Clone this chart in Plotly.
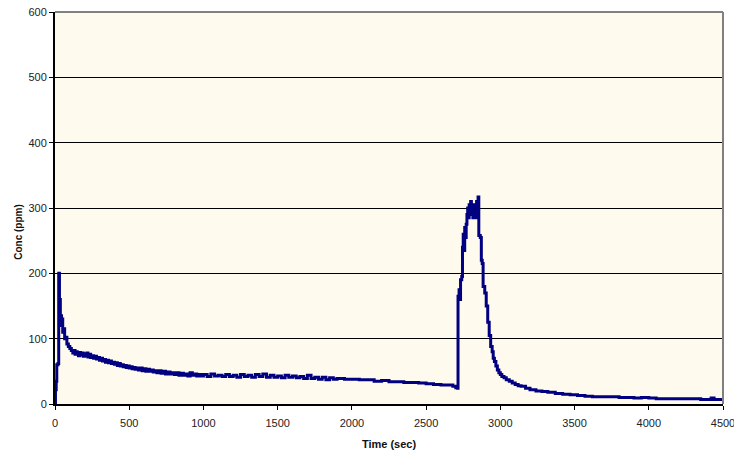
import plotly.graph_objects as go

time_sec = [0, 3, 8, 12, 20, 25, 30, 33, 36, 40, 44, 48, 52, 58, 65, 72, 80, 90, 100, 110,
            120, 128, 135, 142, 150, 158, 165, 172, 180, 190, 200, 207, 215, 222, 230, 240,
            250, 260, 270, 280, 290, 300, 310, 320, 330, 340, 350, 360, 370, 380, 390, 400,
            410, 420, 430, 440, 450, 460, 470, 480, 490, 500, 510, 520, 530, 540, 550, 562,
            575, 587, 600, 612, 625, 637, 650, 662, 675, 687, 700, 715, 730, 745, 760, 775,
            790, 805, 820, 835, 850, 865, 880, 895, 910, 925, 940, 955, 970, 985,
            1000, 1025, 1050, 1075, 1100, 1125, 1150, 1175, 1200, 1225, 1250, 1275, 1300,
            1325, 1350, 1375, 1400, 1425, 1450, 1475, 1500, 1525, 1550, 1575, 1600, 1625,
            1650, 1675, 1700, 1725, 1750, 1775, 1800, 1825, 1850, 1875, 1900, 1950, 2000,
            2050, 2100, 2150, 2200, 2250, 2300, 2350, 2400, 2450, 2500, 2550, 2600, 2650,
            2680, 2700, 2712,
            2715, 2722, 2728, 2732, 2740, 2745, 2750, 2755, 2760, 2765, 2770, 2775, 2780,
            2785, 2790, 2795, 2800, 2805, 2810, 2815, 2820, 2825, 2830, 2835, 2840, 2845,
            2850, 2855, 2865, 2872, 2878, 2884, 2895, 2905, 2915, 2925, 2935, 2945, 2952,
            2960, 2970, 2980, 2990, 3000, 3010, 3025, 3040, 3060, 3080, 3100, 3120, 3140,
            3170, 3200, 3240, 3280, 3320, 3370, 3420, 3470, 3520, 3570, 3620, 3700, 3800,
            3900, 3950, 4000, 4050, 4200, 4350, 4420, 4440, 4500]

conc_ppm = [0, 22, 35, 60, 62, 200, 140, 160, 125, 135, 120, 130, 110, 115, 100, 102, 92, 88, 85, 82,
            78, 82, 76, 80, 77, 74, 79, 75, 78, 73, 77, 74, 78, 72, 76, 71,
            74, 70, 73, 69, 71, 67, 70, 66, 68, 64, 67, 63, 66, 62, 64, 61,
            63, 59, 62, 58, 60, 57, 59, 56, 58, 55, 57, 54, 56, 53, 55, 52,
            55, 51, 54, 50, 53, 50, 52, 49, 51, 48, 51, 47, 50, 46, 49, 46,
            48, 45, 48, 44, 47, 44, 46, 43, 48, 44, 46, 43, 45, 43,
            45, 42, 46, 43, 44, 42, 45, 42, 44, 41, 45, 42, 44,
            41, 45, 42, 46, 41, 44, 41, 43, 40, 44, 41, 43, 40,
            42, 39, 44, 39, 41, 38, 41, 37, 40, 38, 39, 38, 38,
            37, 37, 35, 36, 34, 34, 33, 33, 32, 31, 30, 29, 29,
            27, 25, 24,
            165, 175, 160, 190, 195, 240, 260, 235, 270, 255, 275, 290, 300,
            285, 305, 295, 310, 290, 300, 285, 305, 295, 300, 285, 310, 290,
            317, 258, 255, 220, 215, 180, 170, 150, 125, 105, 88, 80, 70,
            65, 58, 52, 48, 45, 42, 40, 37, 35, 32, 30, 28, 27,
            24, 22, 20, 19, 18, 16, 15, 14, 13, 12, 11, 11, 10,
            9, 10, 9, 8, 8, 7, 9, 7, 7]

x_ticks = [0, 500, 1000, 1500, 2000, 2500, 3000, 3500, 4000, 4500]
y_ticks = [0, 100, 200, 300, 400, 500, 600]

fig = go.Figure()
fig.add_trace(go.Scatter(
    x=time_sec, y=conc_ppm, mode="lines",
    line=dict(color="#000080", width=3, shape="hv"),
    showlegend=False, hoverinfo="skip"))

font = dict(family="Liberation Sans, Arial, sans-serif", size=11, color="#222222")

fig.update_layout(
    width=734, height=453,
    margin=dict(l=55, r=11, t=12, b=49),
    paper_bgcolor="white",
    plot_bgcolor="#FFFAEE",
    font=font,
    xaxis=dict(range=[0, 4500], tickvals=x_ticks, ticks="outside", ticklen=4,
               tickwidth=1, tickcolor="black", showgrid=False, zeroline=False,
               showline=True, linecolor="black", linewidth=2, automargin=False,
               ticklabeloverflow="allow", ticklabelstandoff=4,
               title=dict(text="<b>Time (sec)</b>", font=dict(size=11, color="#111"), standoff=12)),
    yaxis=dict(range=[0, 600], tickvals=y_ticks, ticks="outside", ticklen=4,
               tickwidth=1, tickcolor="black", showgrid=True, gridcolor="black",
               gridwidth=1, zeroline=False, showline=True, linecolor="black",
               linewidth=2, automargin=False),
    shapes=[
        dict(type="line", xref="paper", yref="paper", x0=0, x1=1, y0=1, y1=1,
             line=dict(color="#808080", width=2)),
        dict(type="line", xref="paper", yref="paper", x0=1, x1=1, y0=0, y1=1,
             line=dict(color="#808080", width=2)),
    ],
    annotations=[
        dict(text="<b>Conc (ppm)</b>", xref="paper", yref="paper", x=-0.055, y=0.44,
             textangle=-90, showarrow=False, font=dict(size=10, color="#111"),
             xanchor="center", yanchor="middle"),
    ],
)

fig.write_html("out.html")
